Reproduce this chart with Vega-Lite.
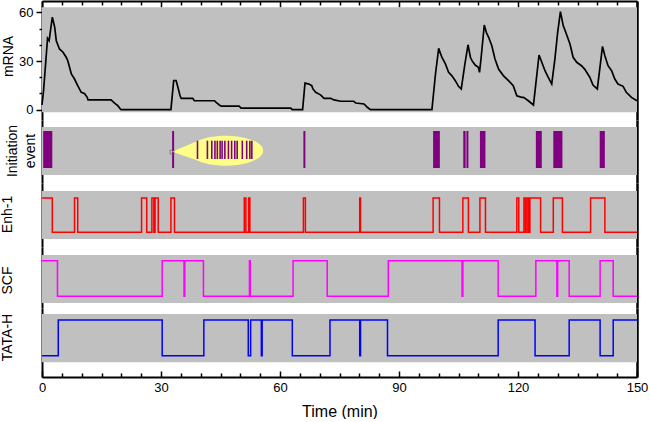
{
  "$schema": "https://vega.github.io/schema/vega-lite/v6.json",
  "background": "white",
  "padding": {"left": 0, "top": 0, "right": 10, "bottom": 0},
  "spacing": 0,
  "bounds": "flush",
  "config": {
    "view": {"stroke": null},
    "font": "Liberation Sans",
    "axis": {"domainColor": "black", "tickColor": "black", "labelColor": "black", "titleColor": "black", "labelFont": "Liberation Sans", "titleFont": "Liberation Sans", "labelFontSize": 13, "titleFontSize": 14, "titleFontWeight": "normal", "grid": false, "domainWidth": 2, "tickWidth": 1.5}
  },
  "datasets": {
    "mrna": [
      {"t": 0, "v": 3}, {"t": 0.4, "v": 12}, {"t": 1.4, "v": 44}, {"t": 1.8, "v": 42.5}, {"t": 2.6, "v": 57}, {"t": 3.2, "v": 50.8}, {"t": 3.6, "v": 42.5}, {"t": 4.4, "v": 37.4}, {"t": 5.3, "v": 35.4}, {"t": 6.1, "v": 32.3}, {"t": 6.5, "v": 30.2}, {"t": 7.4, "v": 22}, {"t": 8.2, "v": 18.9}, {"t": 9.0, "v": 14.8}, {"t": 9.9, "v": 10.7}, {"t": 10.7, "v": 10}, {"t": 11.4, "v": 7.6}, {"t": 11.6, "v": 6}, {"t": 17.4, "v": 6}, {"t": 18.3, "v": 4.1}, {"t": 19.1, "v": 2.5}, {"t": 19.9, "v": 0}, {"t": 32.5, "v": 0}, {"t": 33.2, "v": 18}, {"t": 33.8, "v": 18}, {"t": 34.2, "v": 14.4}, {"t": 34.8, "v": 8.6}, {"t": 35.1, "v": 7}, {"t": 38, "v": 7}, {"t": 38.4, "v": 5.5}, {"t": 43.5, "v": 5.5}, {"t": 43.9, "v": 4.5}, {"t": 44.7, "v": 2.9}, {"t": 45.2, "v": 2.2}, {"t": 49.7, "v": 2.2}, {"t": 50.2, "v": 1}, {"t": 62.7, "v": 1}, {"t": 63.1, "v": 0}, {"t": 65.7, "v": 0}, {"t": 66.3, "v": 16.4}, {"t": 67.3, "v": 15.8}, {"t": 68, "v": 14.8}, {"t": 68.3, "v": 12.8}, {"t": 69, "v": 10.7}, {"t": 70.3, "v": 9}, {"t": 71.1, "v": 7}, {"t": 72.8, "v": 7}, {"t": 73.6, "v": 6}, {"t": 75.3, "v": 5.2}, {"t": 78.6, "v": 5.2}, {"t": 79.1, "v": 4.1}, {"t": 81.2, "v": 3.5}, {"t": 82, "v": 1.5}, {"t": 82.8, "v": 0}, {"t": 98.3, "v": 0}, {"t": 99.2, "v": 22}, {"t": 100, "v": 37.8}, {"t": 100.8, "v": 32.3}, {"t": 101.7, "v": 28.2}, {"t": 102.5, "v": 23}, {"t": 103.3, "v": 21}, {"t": 104.2, "v": 17.9}, {"t": 105, "v": 14.4}, {"t": 105.7, "v": 12.8}, {"t": 106.6, "v": 28}, {"t": 107.4, "v": 40}, {"t": 108, "v": 32.3}, {"t": 108.4, "v": 30.2}, {"t": 109.2, "v": 27.5}, {"t": 110, "v": 26.1}, {"t": 110.3, "v": 23}, {"t": 110.7, "v": 32}, {"t": 111.5, "v": 52.2}, {"t": 112, "v": 47.7}, {"t": 112.6, "v": 44.6}, {"t": 113.4, "v": 39.4}, {"t": 114.2, "v": 31.2}, {"t": 115.1, "v": 25}, {"t": 116.3, "v": 21}, {"t": 117.6, "v": 17.9}, {"t": 118.8, "v": 14.8}, {"t": 119.7, "v": 8.6}, {"t": 120.9, "v": 7.6}, {"t": 121.4, "v": 7.6}, {"t": 122.6, "v": 5.5}, {"t": 123.9, "v": 2.9}, {"t": 125.3, "v": 33.7}, {"t": 126, "v": 29.2}, {"t": 126.8, "v": 24}, {"t": 127.6, "v": 20}, {"t": 128.5, "v": 15.8}, {"t": 129.3, "v": 31.2}, {"t": 130, "v": 47.7}, {"t": 130.7, "v": 60.4}, {"t": 131.4, "v": 51.8}, {"t": 132.2, "v": 46.6}, {"t": 133.1, "v": 40.5}, {"t": 133.9, "v": 32.3}, {"t": 134.8, "v": 29.2}, {"t": 136, "v": 27.1}, {"t": 136.8, "v": 25}, {"t": 138.1, "v": 20}, {"t": 138.9, "v": 15.2}, {"t": 140, "v": 12.8}, {"t": 141.3, "v": 39}, {"t": 141.9, "v": 33.3}, {"t": 142.7, "v": 27.1}, {"t": 143.6, "v": 24}, {"t": 144.4, "v": 18.9}, {"t": 145.2, "v": 15.8}, {"t": 146.5, "v": 14.4}, {"t": 147.3, "v": 10.7}, {"t": 148.6, "v": 7.6}, {"t": 150, "v": 5.5}
    ],
    "init": [
      {"t0": 0.3, "t1": 2.6}, {"t0": 32.8, "t1": 33.3}, {"t0": 65.9, "t1": 66.4}, {"t0": 98.6, "t1": 100.3}, {"t0": 106.2, "t1": 106.8}, {"t0": 107.0, "t1": 107.5}, {"t0": 110.4, "t1": 111.8}, {"t0": 124.5, "t1": 126}, {"t0": 128.9, "t1": 131.2}, {"t0": 140.6, "t1": 141.9}
    ],
    "inset": [
      {"t": 39.2}, {"t": 41.7}, {"t": 42.8}, {"t": 43.6}, {"t": 44.2}, {"t": 44.9}, {"t": 45.4}, {"t": 46.1}, {"t": 47.0}, {"t": 47.8}, {"t": 48.6}, {"t": 49.2}, {"t": 50.5}, {"t": 51.6}, {"t": 52.4}, {"t": 52.9}
    ],
    "enh": [
      {"t": 0, "s": 1}, {"t": 2.6, "s": 0}, {"t": 8.2, "s": 1}, {"t": 9.0, "s": 0}, {"t": 25.1, "s": 1}, {"t": 26.4, "s": 0}, {"t": 27.7, "s": 1}, {"t": 28.2, "s": 0}, {"t": 28.5, "s": 1}, {"t": 29.3, "s": 0}, {"t": 32.5, "s": 1}, {"t": 33.4, "s": 0}, {"t": 51.0, "s": 1}, {"t": 51.4, "s": 0}, {"t": 52.1, "s": 1}, {"t": 52.4, "s": 0}, {"t": 65.9, "s": 1}, {"t": 66.4, "s": 0}, {"t": 80.1, "s": 1}, {"t": 80.3, "s": 0}, {"t": 98.6, "s": 1}, {"t": 100.2, "s": 0}, {"t": 106.1, "s": 1}, {"t": 107.5, "s": 0}, {"t": 110.4, "s": 1}, {"t": 111.8, "s": 0}, {"t": 119.7, "s": 1}, {"t": 120.2, "s": 0}, {"t": 121.5, "s": 1}, {"t": 121.9, "s": 0}, {"t": 122.3, "s": 1}, {"t": 122.7, "s": 0}, {"t": 123.0, "s": 1}, {"t": 125.7, "s": 0}, {"t": 128.9, "s": 1}, {"t": 131.2, "s": 0}, {"t": 138.3, "s": 1}, {"t": 141.9, "s": 0}, {"t": 150, "s": 0}
    ],
    "scf": [
      {"t": 0, "s": 1}, {"t": 3.9, "s": 0}, {"t": 30.3, "s": 1}, {"t": 35.8, "s": 0}, {"t": 36.0, "s": 1}, {"t": 40.7, "s": 0}, {"t": 52.3, "s": 1}, {"t": 52.5, "s": 0}, {"t": 63.3, "s": 1}, {"t": 71.9, "s": 0}, {"t": 87.3, "s": 1}, {"t": 105.9, "s": 0}, {"t": 106.1, "s": 1}, {"t": 115, "s": 0}, {"t": 124.5, "s": 1}, {"t": 129.8, "s": 0}, {"t": 130.0, "s": 1}, {"t": 132.9, "s": 0}, {"t": 140.7, "s": 1}, {"t": 144, "s": 0}, {"t": 150, "s": 0}
    ],
    "tata": [
      {"t": 0, "s": 0}, {"t": 4.1, "s": 1}, {"t": 30.3, "s": 0}, {"t": 40.8, "s": 1}, {"t": 52.0, "s": 0}, {"t": 52.6, "s": 1}, {"t": 55.3, "s": 0}, {"t": 55.5, "s": 1}, {"t": 63.1, "s": 0}, {"t": 72.6, "s": 1}, {"t": 80.1, "s": 0}, {"t": 80.3, "s": 1}, {"t": 87.1, "s": 0}, {"t": 115, "s": 1}, {"t": 124.3, "s": 0}, {"t": 132.9, "s": 1}, {"t": 140.7, "s": 0}, {"t": 144, "s": 1}, {"t": 150, "s": 1}
    ],
    "one": [{}]
  },
  "vconcat": [
    {
      "width": 595, "height": 119,
      "resolve": {"axis": {"x": "independent", "y": "independent"}},
      "layer": [
        {
          "data": {"name": "one"},
          "mark": {"type": "rect", "color": "#c0c0c0"},
          "encoding": {
            "x": {"datum": 0, "type": "quantitative", "scale": {"domain": [0, 150], "nice": false, "zero": false},
              "axis": {"orient": "top", "values": [0,5,10,15,20,25,30,35,40,45,50,55,60,65,70,75,80,85,90,95,100,105,110,115,120,125,130,135,140,145,150], "labels": false, "title": null,
                "tickSize": {"condition": {"test": "datum.value % 30 === 0", "value": -6}, "value": -4}}},
            "x2": {"datum": 150},
            "y": {"datum": -1.6, "type": "quantitative", "scale": {"domain": [-6.35, 66.97], "nice": false, "zero": false},
              "axis": {"orient": "left", "values": [0,10,20,30,40,50,60], "labelExpr": "datum.value % 30 === 0 ? datum.label : ''",
                "tickSize": {"condition": {"test": "datum.value % 30 === 0", "value": 6}, "value": 3}, "labelPadding": 3,
                "title": "mRNA", "titleX": -34, "titleY": 55, "titleAlign": "center", "titleBaseline": "middle", "titleAngle": -90}},
            "y2": {"datum": 63.1}
          }
        },
        {
          "data": {"name": "mrna"},
          "mark": {"type": "line", "color": "black", "strokeWidth": 1.7},
          "encoding": {
            "x": {"field": "t", "type": "quantitative", "axis": null},
            "y": {"field": "v", "type": "quantitative", "axis": {"orient": "right", "ticks": false, "labels": false, "title": null, "domainWidth": 2.5}}
          }
        }
      ]
    },
    {
      "width": 595, "height": 63,
      "resolve": {"axis": {"x": "independent", "y": "independent"}},
      "layer": [
        {
          "data": {"name": "one"},
          "mark": {"type": "rect", "color": "#c0c0c0"},
          "encoding": {
            "x": {"datum": 0, "type": "quantitative", "scale": {"domain": [0, 150], "nice": false, "zero": false}, "axis": null},
            "x2": {"datum": 150},
            "y": {"datum": -0.189, "type": "quantitative", "scale": {"domain": [-0.405, 1.297], "nice": false, "zero": false},
              "axis": {"orient": "left", "ticks": false, "labels": false, "title": ["Initiation", "event"], "titleLineHeight": 18, "titleX": -30, "titleY": 30.5, "titleAlign": "center", "titleBaseline": "middle", "titleAngle": -90}},
            "y2": {"datum": 1.108}
          }
        },
        {
          "data": {"name": "init"},
          "mark": {"type": "rect", "color": "#800080"},
          "encoding": {
            "x": {"field": "t0", "type": "quantitative", "axis": null},
            "x2": {"field": "t1"},
            "y": {"datum": 0, "type": "quantitative", "axis": {"orient": "right", "ticks": false, "labels": false, "title": null, "domainWidth": 2.5}},
            "y2": {"datum": 1}
          }
        },
        {
          "data": {"name": "one"},
          "mark": {"type": "point", "filled": true, "color": "#ffff88", "opacity": 1, "size": 5625, "strokeWidth": 0,
            "shape": "M -1.43 0.03 L -0.8 -0.24 A 1 0.4 0 1 1 -0.8 0.24 Z"},
          "encoding": {
            "x": {"datum": 46.3, "type": "quantitative", "axis": null},
            "y": {"datum": 0.468, "type": "quantitative", "axis": null}
          }
        },
        {
          "data": {"name": "one"},
          "mark": {"type": "point", "shape": "square", "size": 16, "color": "#555555", "strokeWidth": 0.8, "filled": false},
          "encoding": {
            "x": {"datum": 32.8, "type": "quantitative", "axis": null},
            "y": {"datum": 0.43, "type": "quantitative", "axis": null}
          }
        },
        {
          "data": {"name": "inset"},
          "mark": {"type": "rule", "color": "#800080", "strokeWidth": 1.6},
          "encoding": {
            "x": {"field": "t", "type": "quantitative", "axis": null},
            "y": {"datum": 0.243, "type": "quantitative", "axis": null},
            "y2": {"datum": 0.738}
          }
        }
      ]
    },
    {
      "width": 595, "height": 64,
      "resolve": {"axis": {"x": "independent", "y": "independent"}},
      "layer": [
        {
          "data": {"name": "one"},
          "mark": {"type": "rect", "color": "#c0c0c0"},
          "encoding": {
            "x": {"datum": 0, "type": "quantitative", "scale": {"domain": [0, 150], "nice": false, "zero": false}, "axis": null},
            "x2": {"datum": 150},
            "y": {"datum": -0.195, "type": "quantitative", "scale": {"domain": [-0.429, 1.437], "nice": false, "zero": false},
              "axis": {"orient": "left", "ticks": false, "labels": false, "title": "Enh-1", "titleX": -35, "titleY": 31, "titleAlign": "center", "titleBaseline": "middle", "titleAngle": -90}},
            "y2": {"datum": 1.204}
          }
        },
        {
          "data": {"name": "enh"},
          "mark": {"type": "line", "color": "#ff0000", "strokeWidth": 1.5, "interpolate": "step-after"},
          "encoding": {
            "x": {"field": "t", "type": "quantitative", "axis": null},
            "y": {"field": "s", "type": "quantitative", "axis": {"orient": "right", "ticks": false, "labels": false, "title": null, "domainWidth": 2.5}}
          }
        }
      ]
    },
    {
      "width": 595, "height": 61,
      "resolve": {"axis": {"x": "independent", "y": "independent"}},
      "layer": [
        {
          "data": {"name": "one"},
          "mark": {"type": "rect", "color": "#c0c0c0"},
          "encoding": {
            "x": {"datum": 0, "type": "quantitative", "scale": {"domain": [0, 150], "nice": false, "zero": false}, "axis": null},
            "x2": {"datum": 150},
            "y": {"datum": -0.188, "type": "quantitative", "scale": {"domain": [-0.329, 1.385], "nice": false, "zero": false},
              "axis": {"orient": "left", "ticks": false, "labels": false, "title": "SCF", "titleX": -35, "titleY": 33, "titleAlign": "center", "titleBaseline": "middle", "titleAngle": -90}},
            "y2": {"datum": 1.16}
          }
        },
        {
          "data": {"name": "scf"},
          "mark": {"type": "line", "color": "#ff00ff", "strokeWidth": 1.5, "interpolate": "step-after"},
          "encoding": {
            "x": {"field": "t", "type": "quantitative", "axis": null},
            "y": {"field": "s", "type": "quantitative", "axis": {"orient": "right", "ticks": false, "labels": false, "title": null, "domainWidth": 2.5}}
          }
        }
      ]
    },
    {
      "width": 595, "height": 69,
      "resolve": {"axis": {"x": "independent", "y": "independent"}},
      "layer": [
        {
          "data": {"name": "one"},
          "mark": {"type": "rect", "color": "#c0c0c0"},
          "encoding": {
            "x": {"datum": 0, "type": "quantitative", "scale": {"domain": [0, 150], "nice": false, "zero": false},
              "axis": {"orient": "bottom", "values": [0,5,10,15,20,25,30,35,40,45,50,55,60,65,70,75,80,85,90,95,100,105,110,115,120,125,130,135,140,145,150], "labelExpr": "datum.value % 30 === 0 ? datum.label : ''",
                "tickSize": {"condition": {"test": "datum.value % 30 === 0", "value": -6}, "value": -4}, "labelPadding": 10, "labelFlush": false, "labelOverlap": false,
                "title": "Time (min)", "titleFontSize": 16, "titlePadding": 7}},
            "x2": {"datum": 150},
            "y": {"datum": -0.185, "type": "quantitative", "scale": {"domain": [-0.597, 1.336], "nice": false, "zero": false},
              "axis": {"orient": "left", "ticks": false, "labels": false, "title": "TATA-H", "titleX": -35, "titleY": 29, "titleAlign": "center", "titleBaseline": "middle", "titleAngle": -90}},
            "y2": {"datum": 1.168}
          }
        },
        {
          "data": {"name": "tata"},
          "mark": {"type": "line", "color": "#0000ff", "strokeWidth": 1.5, "interpolate": "step-after"},
          "encoding": {
            "x": {"field": "t", "type": "quantitative", "axis": null},
            "y": {"field": "s", "type": "quantitative", "axis": {"orient": "right", "ticks": false, "labels": false, "title": null, "domainWidth": 2.5}}
          }
        }
      ]
    }
  ]
}
